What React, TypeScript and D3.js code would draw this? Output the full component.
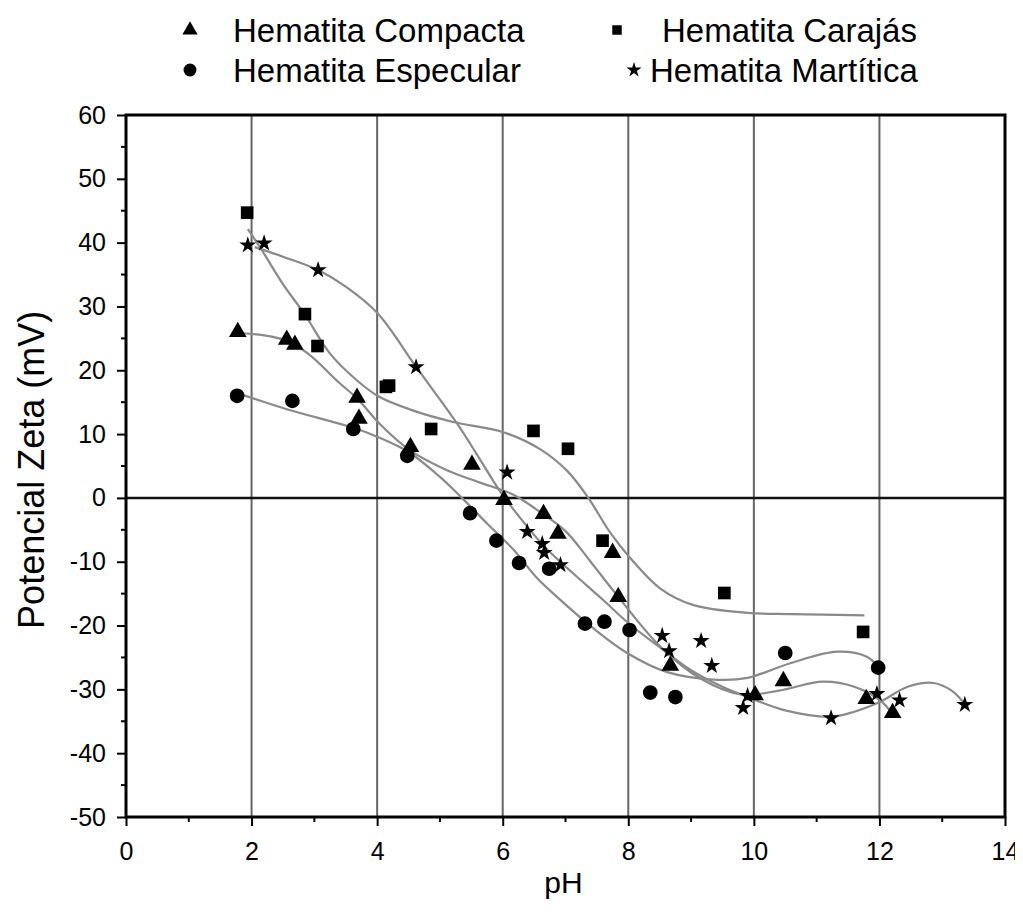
import React, { useRef, useEffect } from 'react';
import * as d3 from 'd3';

// measured points [pH, zeta mV]
const compacta: [number, number][] = [
  [1.78, 26.0], [2.56, 24.8], [2.69, 24.0], [3.68, 15.7], [3.71, 12.4], [4.53, 8.0],
  [5.51, 5.2], [6.02, -0.3], [6.65, -2.5], [6.88, -5.6], [7.75, -8.6], [7.84, -15.5],
  [8.67, -26.3], [10.02, -30.9], [10.47, -28.7], [11.79, -31.5], [12.21, -33.7],
];
const carajas: [number, number][] = [
  [1.93, 44.7], [2.85, 28.8], [3.05, 23.8], [4.14, 17.4], [4.19, 17.6], [4.86, 10.8],
  [6.49, 10.5], [7.04, 7.7], [7.59, -6.7], [9.53, -14.9], [11.74, -21.0],
];
const especular: [number, number][] = [
  [1.77, 16.0], [2.65, 15.2], [3.62, 10.8], [4.48, 6.6], [5.48, -2.4], [5.9, -6.7],
  [6.26, -10.2], [6.74, -11.1], [7.31, -19.7], [7.62, -19.4], [8.02, -20.7],
  [8.35, -30.5], [8.75, -31.2], [10.5, -24.3], [11.98, -26.6],
];
const martitica: [number, number][] = [
  [1.94, 39.6], [2.2, 39.9], [3.06, 35.7], [4.62, 20.5], [6.07, 4.0], [6.39, -5.3],
  [6.63, -7.2], [6.66, -8.6], [6.92, -10.5], [8.54, -21.6], [8.65, -24.0], [9.16, -22.4],
  [9.33, -26.3], [9.83, -32.9], [9.9, -31.0], [11.23, -34.5], [11.96, -30.7],
  [12.32, -31.7], [13.36, -32.4],
];

// fitted curves
const fitCompacta: [number, number][] = [
  [1.85, 25.8], [2.18, 25.5], [2.57, 24.6], [2.9, 22.6], [3.4, 18.0], [3.68, 15.6],
  [4.05, 11.5], [4.53, 7.4], [5.12, 4.3], [5.64, 2.4], [6.17, 0.5], [6.55, -1.9],
  [7.0, -5.2], [7.4, -10.0], [7.84, -15.5], [8.51, -23.3], [9.15, -28.3], [9.8, -30.8],
  [10.4, -30.2], [11.1, -28.8], [11.6, -29.6], [12.02, -31.8], [12.22, -34.0],
];
const fitCarajas: [number, number][] = [
  [1.94, 42.1], [2.14, 39.2], [2.5, 33.5], [2.85, 28.7], [3.25, 22.6], [3.68, 18.4],
  [4.04, 15.8], [4.6, 13.6], [5.21, 11.9], [6.01, 10.3], [6.6, 7.6], [7.03, 4.2],
  [7.35, 0.2], [7.71, -5.4], [8.03, -9.4], [8.51, -14.2], [9.04, -16.8], [9.9, -18.0],
  [10.6, -18.2], [11.76, -18.4],
];
const fitEspecular: [number, number][] = [
  [1.87, 16.1], [2.56, 13.9], [3.62, 11.0], [4.0, 9.6], [4.5, 7.2], [5.0, 3.3],
  [5.33, 0.2], [5.75, -4.0], [6.17, -8.1], [6.55, -12.6], [6.92, -16.0], [7.45, -20.5],
  [7.98, -24.3], [8.62, -27.3], [9.42, -28.5], [9.9, -28.2], [10.58, -25.9],
  [11.33, -24.1], [11.8, -24.9], [11.98, -26.5],
];
const fitMartitica: [number, number][] = [
  [2.05, 39.3], [2.5, 37.8], [3.06, 35.7], [3.5, 33.1], [4.0, 29.0], [4.63, 20.4],
  [5.27, 11.7], [5.64, 6.0], [5.96, 1.0], [6.39, -4.5], [6.71, -8.1], [7.12, -11.8],
  [7.6, -16.0], [8.0, -19.6], [8.5, -23.4], [9.0, -27.0], [9.5, -29.6], [9.9, -31.2],
  [10.5, -33.3], [11.22, -34.3], [11.6, -33.5], [12.02, -31.9], [12.45, -29.6],
  [12.86, -29.0], [13.15, -30.2], [13.36, -32.3],
];

const xTicks = [0, 2, 4, 6, 8, 10, 12, 14];
const yTicks = [-50, -40, -30, -20, -10, 0, 10, 20, 30, 40, 50, 60];
const xMinor = [1, 3, 5, 7, 9, 11, 13];
const yMinor = [-45, -35, -25, -15, -5, 5, 15, 25, 35, 45, 55];
const gridX = [2, 4, 6, 8, 10, 12];

const seriesNames = ['Hematita Compacta', 'Hematita Carajás', 'Hematita Especular', 'Hematita Martítica'];

export default function App() {
  const svgRef = useRef<SVGSVGElement>(null);

  useEffect(() => {
    const width = 1023;
    const height = 924;
    const margin = { top: 115, right: 18, bottom: 107, left: 126 };

    const svg = d3.select(svgRef.current);
    svg.selectAll('*').remove();

    const x = d3.scaleLinear().domain([0, 14]).range([margin.left, width - margin.right]);
    const y = d3.scaleLinear().domain([-50, 60]).range([height - margin.bottom, margin.top]);

    const font = 'Arial, "Liberation Sans", sans-serif';
    const plain = (d: d3.NumberValue) => String(d);

    // grid
    svg.append('g')
      .selectAll('line')
      .data(gridX)
      .join('line')
      .attr('x1', d => x(d)).attr('x2', d => x(d))
      .attr('y1', y(60)).attr('y2', y(-50))
      .attr('stroke', '#666')
      .attr('stroke-width', 2);

    svg.append('line')
      .attr('x1', x(0)).attr('x2', x(14))
      .attr('y1', y(0)).attr('y2', y(0))
      .attr('stroke', '#111')
      .attr('stroke-width', 2.5);

    // fits
    const line = d3.line<[number, number]>()
      .x(d => x(d[0]))
      .y(d => y(d[1]))
      .curve(d3.curveCatmullRom.alpha(0.5));

    svg.append('g')
      .selectAll('path')
      .data([fitCompacta, fitCarajas, fitEspecular, fitMartitica])
      .join('path')
      .attr('d', d => line(d))
      .attr('fill', 'none')
      .attr('stroke', '#8a8a8a')
      .attr('stroke-width', 2.2);

    // markers
    const symbols = [
      { data: compacta, type: d3.symbolTriangle, size: 135 },
      { data: carajas, type: d3.symbolSquare, size: 160 },
      { data: especular, type: d3.symbolCircle, size: 170 },
      { data: martitica, type: d3.symbolStar, size: 90 },
    ];
    symbols.forEach(s => {
      svg.append('g')
        .selectAll('path')
        .data(s.data)
        .join('path')
        .attr('transform', d => `translate(${x(d[0])},${y(d[1])})`)
        .attr('d', d3.symbol().type(s.type).size(s.size)())
        .attr('fill', '#000');
    });

    // axes
    const xAxis = svg.append('g')
      .attr('transform', `translate(0,${y(-50)})`)
      .call(d3.axisBottom(x).tickValues(xTicks).tickSize(9).tickPadding(16).tickFormat(plain));
    xAxis.append('g')
      .selectAll('line')
      .data(xMinor)
      .join('line')
      .attr('x1', d => x(d)).attr('x2', d => x(d))
      .attr('y1', 0).attr('y2', 5)
      .attr('stroke', '#000').attr('stroke-width', 2);

    const yAxis = svg.append('g')
      .attr('transform', `translate(${x(0)},0)`)
      .call(d3.axisLeft(y).tickValues(yTicks).tickSize(9).tickPadding(11).tickFormat(plain));
    yAxis.append('g')
      .selectAll('line')
      .data(yMinor)
      .join('line')
      .attr('x1', 0).attr('x2', -5)
      .attr('y1', d => y(d)).attr('y2', d => y(d))
      .attr('stroke', '#000').attr('stroke-width', 2);

    [xAxis, yAxis].forEach(a => {
      a.select('.domain').remove();
      a.selectAll('.tick line').attr('stroke', '#000').attr('stroke-width', 2);
      a.selectAll('.tick text')
        .attr('fill', '#000')
        .style('font-family', font)
        .style('font-size', '25px');
    });

    // frame
    svg.append('rect')
      .attr('x', x(0)).attr('y', y(60))
      .attr('width', x(14) - x(0))
      .attr('height', y(-50) - y(60))
      .attr('fill', 'none')
      .attr('stroke', '#000')
      .attr('stroke-width', 3);

    // axis titles
    svg.append('text')
      .attr('x', x(7) - 2)
      .attr('y', 893)
      .attr('text-anchor', 'middle')
      .style('font-family', font)
      .style('font-size', '30px')
      .text('pH');

    svg.append('text')
      .attr('transform', `translate(44,${y(4.4)}) rotate(-90)`)
      .attr('text-anchor', 'middle')
      .style('font-family', font)
      .style('font-size', '36px')
      .text('Potencial Zeta (mV)');

    // legend
    const legendPos = [
      { sx: 190, tx: 233, y: 30 },
      { sx: 617, tx: 662, y: 30 },
      { sx: 190, tx: 233, y: 70 },
      { sx: 634, tx: 650, y: 70 },
    ];
    const legendSizes = [100, 90, 130, 70];
    const legend = svg.append('g');
    seriesNames.forEach((name, i) => {
      const p = legendPos[i];
      legend.append('path')
        .attr('transform', `translate(${p.sx},${p.y})`)
        .attr('d', d3.symbol().type(symbols[i].type).size(legendSizes[i])())
        .attr('fill', '#000');
      legend.append('text')
        .attr('x', p.tx)
        .attr('y', p.y + 12)
        .style('font-family', font)
        .style('font-size', '33px')
        .text(name);
    });
  }, []);

  return (
    <div style={{ width: 1023, height: 924, margin: -8 }}>
      <svg ref={svgRef} width={1023} height={924} style={{ display: 'block' }}></svg>
    </div>
  );
}
